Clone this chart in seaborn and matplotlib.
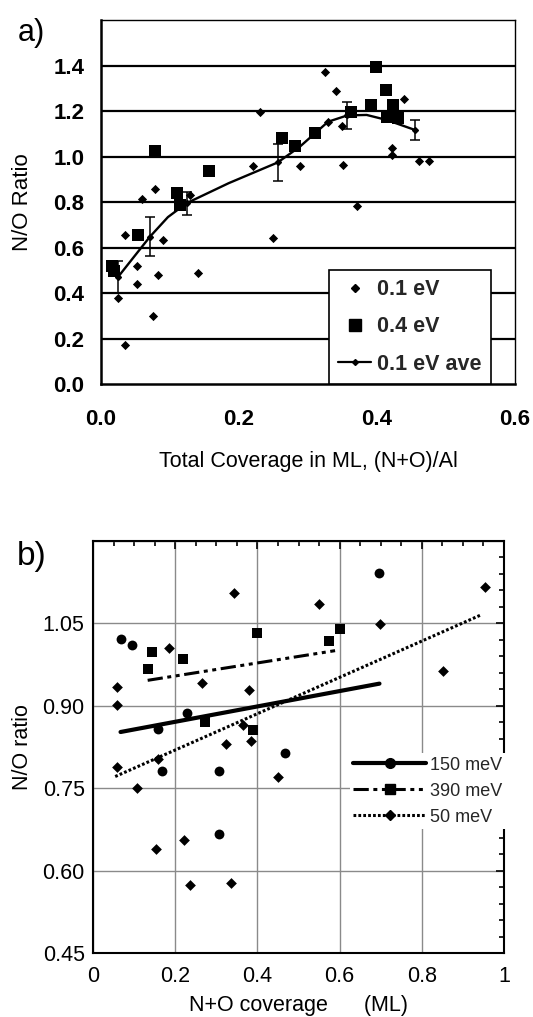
import numpy as np
import pandas as pd
import matplotlib
matplotlib.use("Agg")
import matplotlib.pyplot as plt
from matplotlib.lines import Line2D
from matplotlib.ticker import MultipleLocator, FixedLocator
import seaborn as sns

# ---------------- data: panel a ----------------
a_x_01 = [0.024, 0.035, 0.035, 0.052, 0.052, 0.059, 0.076, 0.078, 0.083, 0.090,
          0.129, 0.140, 0.221, 0.230, 0.249, 0.288, 0.325, 0.329, 0.341, 0.349,
          0.350, 0.371, 0.422, 0.422, 0.439, 0.461, 0.476]
a_y_01 = [0.378, 0.173, 0.656, 0.520, 0.441, 0.813, 0.302, 0.857, 0.480, 0.634,
          0.832, 0.491, 0.960, 1.198, 0.642, 0.960, 1.374, 1.154, 1.290, 1.135,
          0.964, 0.785, 1.037, 1.010, 1.255, 0.983, 0.983]

a_x_04 = [0.016, 0.019, 0.054, 0.078, 0.110, 0.114, 0.156, 0.263, 0.281, 0.310,
          0.363, 0.392, 0.399, 0.413, 0.414, 0.423, 0.431]
a_y_04 = [0.520, 0.498, 0.656, 1.026, 0.840, 0.790, 0.938, 1.081, 1.047, 1.103,
          1.198, 1.228, 1.396, 1.294, 1.176, 1.228, 1.169]

a_x_ave = [0.025, 0.049, 0.071, 0.097, 0.124, 0.185, 0.256, 0.288, 0.310, 0.329,
           0.357, 0.385, 0.414, 0.455]
a_y_ave = [0.473, 0.565, 0.649, 0.735, 0.796, 0.884, 0.975, 1.044, 1.103, 1.154,
           1.182, 1.184, 1.162, 1.118]
a_err_ave = [0.070, np.nan, 0.085, np.nan, 0.050, np.nan, 0.080, np.nan, np.nan,
             np.nan, 0.060, np.nan, np.nan, 0.043]

a_xticks = [0.0, 0.2, 0.4, 0.6]
a_xticklabels = ["0.0", "0.2", "0.4", "0.6"]
a_yticks = [0.0, 0.2, 0.4, 0.6, 0.8, 1.0, 1.2, 1.4]
a_yticklabels = ["0.0", "0.2", "0.4", "0.6", "0.8", "1.0", "1.2", "1.4"]
a_labels = ["0.1 eV", "0.4 eV", "0.1 eV ave"]

# ---------------- data: panel b ----------------
b_x_150 = [0.068, 0.096, 0.159, 0.167, 0.228, 0.307, 0.307, 0.467, 0.696]
b_y_150 = [1.022, 1.011, 0.857, 0.781, 0.886, 0.781, 0.666, 0.813, 1.141]

b_x_390 = [0.133, 0.143, 0.220, 0.272, 0.390, 0.400, 0.573, 0.601]
b_y_390 = [0.966, 0.997, 0.985, 0.871, 0.855, 1.033, 1.017, 1.039]

b_x_50 = [0.058, 0.058, 0.058, 0.106, 0.153, 0.159, 0.185, 0.222, 0.235, 0.264,
          0.324, 0.336, 0.344, 0.364, 0.380, 0.384, 0.451, 0.550, 0.698, 0.851, 0.954]
b_y_50 = [0.934, 0.901, 0.789, 0.751, 0.639, 0.802, 1.005, 0.655, 0.574, 0.941,
          0.831, 0.577, 1.105, 0.865, 0.928, 0.835, 0.771, 1.084, 1.048, 0.963, 1.115]

fit_x_150 = [0.067, 0.697]
fit_y_150 = [0.852, 0.940]
fit_x_390 = [0.133, 0.589]
fit_y_390 = [0.946, 1.000]
fit_x_50 = [0.054, 0.944]
fit_y_50 = [0.771, 1.065]

b_xticks = [0.0, 0.2, 0.4, 0.6, 0.8, 1.0]
b_xticklabels = ["0", "0.2", "0.4", "0.6", "0.8", "1"]
b_yticks = [0.45, 0.60, 0.75, 0.90, 1.05]
b_yticklabels = ["0.45", "0.60", "0.75", "0.90", "1.05"]
b_labels = ["150 meV", "390 meV", "50 meV"]

# ---------------- style ----------------
sns.set_theme(style="white")
plt.rcParams["font.family"] = ["Liberation Sans", "DejaVu Sans"]
plt.rcParams["axes.unicode_minus"] = False

fig = plt.figure(figsize=(5.33, 10.17), dpi=100)
W, H = 533.0, 1017.0
axA = fig.add_axes([101 / W, 1 - 384.3 / H, 414 / W, 364 / H])
axB = fig.add_axes([93 / W, 1 - 953 / H, 411 / W, 412.3 / H])

# ================= panel a =================
axA.set_xlim(0, 0.6)
axA.set_ylim(0, 1.6)
for yv in a_yticks[1:]:
    axA.axhline(yv, color="black", lw=1.6, zorder=1)

df_ave = pd.DataFrame({"x": a_x_ave, "y": a_y_ave, "err": a_err_ave})
sns.lineplot(data=df_ave, x="x", y="y", ax=axA, color="black", lw=1.7,
             sort=False, estimator=None, zorder=3, legend=False)
eb = df_ave.dropna()
axA.errorbar(eb["x"], eb["y"], yerr=eb["err"], fmt="none", ecolor="black",
             elinewidth=1.1, capsize=3.5, capthick=1.1, zorder=3)
axA.plot(eb["x"], eb["y"], ls="none", marker="D", ms=3, color="black", zorder=4)

df01 = pd.DataFrame({"x": a_x_01, "y": a_y_01})
df04 = pd.DataFrame({"x": a_x_04, "y": a_y_04})
sns.scatterplot(data=df01, x="x", y="y", ax=axA, marker="D", s=22,
                color="black", edgecolor="black", linewidth=0, zorder=5, legend=False)
sns.scatterplot(data=df04, x="x", y="y", ax=axA, marker="s", s=85,
                color="black", edgecolor="black", linewidth=0, zorder=5, legend=False)

axA.set_xticks(a_xticks)
axA.set_xticklabels(a_xticklabels)
axA.set_yticks(a_yticks)
axA.set_yticklabels(a_yticklabels)
axA.tick_params(axis="both", direction="out", length=6, width=1.5, color="black",
                labelsize=16, labelcolor="black")
axA.tick_params(axis="x", pad=12)
axA.tick_params(axis="y", pad=6)
for lab in axA.get_xticklabels() + axA.get_yticklabels():
    lab.set_fontweight("bold")
for side in ["left", "bottom"]:
    axA.spines[side].set_color("black")
    axA.spines[side].set_linewidth(1.8)
for side in ["top", "right"]:
    axA.spines[side].set_color("black")
    axA.spines[side].set_linewidth(1.0)

axA.set_xlabel("Total Coverage in ML, (N+O)/Al", fontsize=15.5, color="black", va="center")
axA.xaxis.set_label_coords(0.5, (384.3 - 462) / 364)
axA.set_ylabel("N/O Ratio", fontsize=16, color="black", va="center")
axA.yaxis.set_label_coords((23 - 101) / 414, 0.5)

hA = [Line2D([], [], ls="none", marker="D", ms=4.5, color="black"),
      Line2D([], [], ls="none", marker="s", ms=9, color="black"),
      Line2D([], [], ls="-", lw=1.6, marker="D", ms=3, color="black")]
legA = axA.legend(hA, a_labels, loc="lower right", bbox_to_anchor=(0.943, 0.0),
                  borderaxespad=0, fontsize=15.5, frameon=True, fancybox=False,
                  edgecolor="black", framealpha=1, handlelength=1.5,
                  handletextpad=0.3, labelspacing=0.75, borderpad=0.45)
legA.get_frame().set_linewidth(1.2)
legA.set_zorder(10)
for t in legA.get_texts():
    t.set_fontweight("bold")

fig.text(31 / W, 1 - 33 / H, "a)", fontsize=22, ha="center", va="center",
         color="black")

# ================= panel b =================
axB.set_xlim(0, 1.0)
axB.set_ylim(0.45, 1.2)
axB.xaxis.set_major_locator(FixedLocator(b_xticks))
axB.set_xticklabels(b_xticklabels)
axB.yaxis.set_major_locator(FixedLocator(b_yticks + [1.2]))
axB.set_yticklabels(b_yticklabels + [""])
axB.xaxis.set_minor_locator(MultipleLocator(0.05))
axB.yaxis.set_minor_locator(MultipleLocator(0.03))
axB.grid(True, which="major", color="#8a8a8a", lw=1.0, zorder=0)
axB.set_axisbelow(True)
axB.tick_params(which="both", direction="in", top=True, right=True, color="black")
axB.tick_params(which="major", length=6, width=1.2, labelsize=15.5, labelcolor="black")
axB.tick_params(which="minor", length=3.5, width=1.2)
axB.tick_params(axis="x", which="major", pad=9)
axB.tick_params(axis="y", which="major", pad=6)
for side in axB.spines:
    axB.spines[side].set_color("black")
    axB.spines[side].set_linewidth(1.5)

sns.lineplot(x=fit_x_150, y=fit_y_150, ax=axB, color="black", lw=3.0, zorder=3,
             estimator=None, sort=False, legend=False)
sns.lineplot(x=fit_x_390, y=fit_y_390, ax=axB, color="black", lw=2.2, zorder=3,
             estimator=None, sort=False, legend=False,
             linestyle=(0, (5, 1.5, 1.3, 1.5, 1.3, 1.5)))
sns.lineplot(x=fit_x_50, y=fit_y_50, ax=axB, color="black", lw=2.2, zorder=3,
             estimator=None, sort=False, legend=False, linestyle=(0, (0.9, 0.7)))

sns.scatterplot(x=b_x_150, y=b_y_150, ax=axB, marker="o", s=50, color="black",
                linewidth=0, zorder=4, legend=False)
sns.scatterplot(x=b_x_390, y=b_y_390, ax=axB, marker="s", s=44, color="black",
                linewidth=0, zorder=4, legend=False)
sns.scatterplot(x=b_x_50, y=b_y_50, ax=axB, marker="D", s=30, color="black",
                linewidth=0, zorder=4, legend=False)

hB = [Line2D([], [], color="black", lw=3.0, marker="o", ms=7),
      Line2D([], [], color="black", lw=2.2, marker="s", ms=6.5,
             linestyle=(0, (5, 1.5, 1.3, 1.5, 1.3, 1.5))),
      Line2D([], [], color="black", lw=2.2, marker="D", ms=5.5,
             linestyle=(0, (0.9, 0.7)))]
legB = axB.legend(hB, b_labels, loc="upper left", bbox_to_anchor=(0.625, 0.485),
                  borderaxespad=0, fontsize=13, frameon=True, fancybox=False,
                  edgecolor="none", facecolor="white", framealpha=1,
                  handlelength=4.0, handletextpad=0.25, labelspacing=0.5,
                  borderpad=0.2)
legB.set_zorder(10)

axB.set_xlabel("N+O coverage      (ML)", fontsize=15.5, color="black", va="center")
axB.xaxis.set_label_coords(0.5, (953 - 1006) / 412.3)
axB.set_ylabel("N/O ratio", fontsize=15.5, color="black", va="center")
axB.yaxis.set_label_coords((23 - 93) / 411, 0.5)

fig.text(32 / W, 1 - 556 / H, "b)", fontsize=24, ha="center", va="center",
         color="black")

fig.savefig("out.png", dpi=100)
